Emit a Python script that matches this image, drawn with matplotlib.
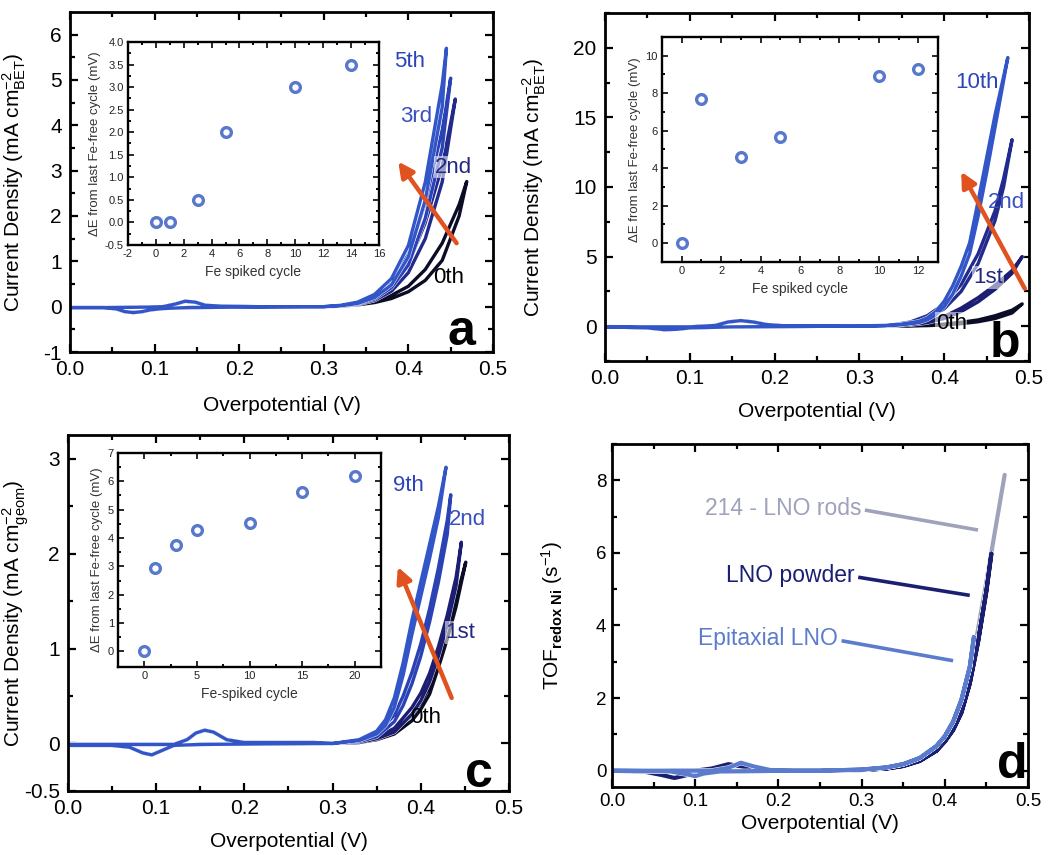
import numpy as np
import matplotlib
matplotlib.use('Agg')
import matplotlib.pyplot as plt
import matplotlib.patheffects as pe

plt.rcParams['font.family'] = ['Liberation Sans', 'DejaVu Sans']
plt.rcParams['mathtext.fontset'] = 'custom'
plt.rcParams['mathtext.rm'] = 'Liberation Sans'
plt.rcParams['mathtext.it'] = 'Liberation Sans:italic'
plt.rcParams['mathtext.bf'] = 'Liberation Sans:bold'
plt.rcParams['axes.unicode_minus'] = False

# ---------------- panel a (BET normalised, Fe spiking) ----------------
a_lo_v_fwd = [0.0, 0.05, 0.09, 0.11, 0.125, 0.136, 0.148, 0.16, 0.18, 0.22, 0.28]
a_lo_j_fwd = [-0.02, -0.02, -0.01, 0.0, 0.06, 0.12, 0.10, 0.03, 0.01, 0.0, 0.0]
a_lo_v_rev = [0.28, 0.20, 0.14, 0.11, 0.095, 0.085, 0.075, 0.065, 0.055, 0.04, 0.0]
a_lo_j_rev = [0.0, -0.01, -0.02, -0.04, -0.07, -0.11, -0.13, -0.11, -0.05, -0.02, -0.02]

a_v_0th = [0.30, 0.32, 0.34, 0.36, 0.38, 0.40, 0.42, 0.44, 0.46, 0.469]
a_fwd_0th = [0.0, 0.02, 0.06, 0.13, 0.25, 0.45, 0.82, 1.40, 2.25, 2.76]
a_rev_0th = [0.0, 0.01, 0.04, 0.09, 0.18, 0.33, 0.58, 1.02, 2.00, 2.76]
a_v_2nd = [0.30, 0.32, 0.34, 0.36, 0.38, 0.40, 0.42, 0.44, 0.4555]
a_fwd_2nd = [0.0, 0.02, 0.08, 0.20, 0.45, 0.95, 1.85, 3.10, 4.58]
a_rev_2nd = [0.0, 0.01, 0.05, 0.14, 0.34, 0.75, 1.50, 2.75, 4.58]
a_v_3rd = [0.30, 0.32, 0.34, 0.36, 0.38, 0.40, 0.42, 0.44, 0.45]
a_fwd_3rd = [0.0, 0.02, 0.09, 0.24, 0.55, 1.15, 2.30, 3.90, 5.04]
a_rev_3rd = [0.0, 0.01, 0.06, 0.17, 0.42, 0.92, 1.95, 3.50, 5.04]
a_v_5th = [0.30, 0.32, 0.34, 0.36, 0.38, 0.40, 0.42, 0.44, 0.445]
a_fwd_5th = [0.0, 0.03, 0.10, 0.27, 0.62, 1.35, 2.75, 4.90, 5.70]
a_rev_5th = [0.0, 0.02, 0.07, 0.20, 0.48, 1.10, 2.35, 4.40, 5.70]

a_inset_cycle = [0, 1, 3, 5, 10, 14]
a_inset_dE = [0.0, 0.0, 0.5, 2.0, 3.0, 3.5]

# ---------------- panel b ----------------
b_lo_v_fwd = [0.0, 0.10, 0.13, 0.145, 0.16, 0.175, 0.19, 0.21, 0.28]
b_lo_j_fwd = [-0.05, -0.05, 0.05, 0.30, 0.40, 0.30, 0.12, 0.03, 0.0]
b_lo_v_rev = [0.28, 0.15, 0.10, 0.085, 0.07, 0.05, 0.0]
b_lo_j_rev = [0.0, -0.05, -0.12, -0.22, -0.25, -0.12, -0.05]

b_v_0th = [0.30, 0.34, 0.38, 0.40, 0.42, 0.44, 0.46, 0.48, 0.492]
b_fwd_0th = [0.0, 0.02, 0.07, 0.15, 0.28, 0.45, 0.75, 1.15, 1.60]
b_rev_0th = [0.0, 0.01, 0.04, 0.09, 0.18, 0.32, 0.55, 0.95, 1.60]
b_v_1st = [0.30, 0.34, 0.36, 0.38, 0.40, 0.42, 0.44, 0.46, 0.48, 0.492]
b_fwd_1st = [0.0, 0.05, 0.14, 0.33, 0.70, 1.30, 2.05, 2.95, 4.00, 5.00]
b_rev_1st = [0.0, 0.03, 0.10, 0.25, 0.55, 1.05, 1.75, 2.65, 3.80, 5.00]
b_v_2nd = [0.30, 0.34, 0.36, 0.38, 0.40, 0.42, 0.44, 0.46, 0.47, 0.48]
b_fwd_2nd = [0.0, 0.10, 0.30, 0.75, 1.60, 3.00, 5.20, 8.30, 10.6, 13.4]
b_rev_2nd = [0.0, 0.06, 0.20, 0.55, 1.25, 2.50, 4.50, 7.60, 10.0, 13.4]
b_v_10th = [0.30, 0.33, 0.35, 0.37, 0.38, 0.39, 0.40, 0.41, 0.42, 0.43, 0.44, 0.45, 0.46, 0.475]
b_fwd_10th = [0.0, 0.05, 0.15, 0.35, 0.60, 1.05, 1.80, 2.90, 4.30, 6.00, 9.00, 12.1, 15.2, 19.3]
b_rev_10th = [0.0, 0.03, 0.10, 0.25, 0.45, 0.80, 1.40, 2.30, 3.60, 5.20, 7.90, 11.0, 14.3, 19.3]

b_inset_cycle = [0, 1, 3, 5, 10, 12]
b_inset_dE = [0.0, 7.7, 4.6, 5.65, 8.9, 9.3]

# ---------------- panel c (geometric area) ----------------
c_lo_v_fwd = [0.0, 0.12, 0.135, 0.145, 0.155, 0.165, 0.18, 0.20, 0.28]
c_lo_j_fwd = [-0.01, -0.01, 0.04, 0.11, 0.14, 0.12, 0.04, 0.01, 0.01]
c_lo_v_rev = [0.28, 0.15, 0.12, 0.105, 0.095, 0.085, 0.07, 0.05, 0.0]
c_lo_j_rev = [0.0, -0.01, -0.02, -0.08, -0.12, -0.10, -0.04, -0.02, -0.02]

c_v_0th = [0.30, 0.33, 0.35, 0.37, 0.39, 0.40, 0.41, 0.42, 0.43, 0.44, 0.451]
c_fwd_0th = [0.0, 0.02, 0.06, 0.13, 0.30, 0.43, 0.60, 0.90, 1.20, 1.52, 1.91]
c_rev_0th = [0.0, 0.01, 0.04, 0.10, 0.24, 0.36, 0.52, 0.80, 1.10, 1.44, 1.91]
c_v_1st = [0.30, 0.33, 0.35, 0.37, 0.39, 0.40, 0.41, 0.42, 0.43, 0.44, 0.446]
c_fwd_1st = [0.0, 0.02, 0.07, 0.16, 0.38, 0.53, 0.74, 1.02, 1.35, 1.75, 2.12]
c_rev_1st = [0.0, 0.01, 0.05, 0.12, 0.31, 0.45, 0.65, 0.92, 1.25, 1.66, 2.12]
c_v_2nd = [0.30, 0.33, 0.35, 0.37, 0.38, 0.39, 0.40, 0.41, 0.42, 0.43, 0.434]
c_fwd_2nd = [0.0, 0.03, 0.10, 0.30, 0.50, 0.75, 1.05, 1.42, 1.85, 2.35, 2.62]
c_rev_2nd = [0.0, 0.02, 0.07, 0.23, 0.40, 0.63, 0.92, 1.28, 1.70, 2.20, 2.62]
c_v_9th = [0.30, 0.33, 0.35, 0.36, 0.37, 0.38, 0.39, 0.40, 0.41, 0.42, 0.4286]
c_fwd_9th = [0.0, 0.04, 0.13, 0.25, 0.48, 0.85, 1.30, 1.70, 2.10, 2.50, 2.91]
c_rev_9th = [0.0, 0.03, 0.10, 0.19, 0.38, 0.72, 1.15, 1.55, 1.95, 2.38, 2.91]

c_inset_cycle = [0, 1, 3, 5, 10, 15, 20]
c_inset_dE = [0.0, 2.93, 3.77, 4.27, 4.52, 5.63, 6.18]

# ---------------- panel d (TOF per redox Ni) ----------------
d_v_rods = [0.0, 0.10, 0.20, 0.25, 0.30, 0.33, 0.35, 0.37, 0.39, 0.40, 0.41, 0.42, 0.43, 0.44, 0.45, 0.46, 0.472]
d_j_rods = [0.0, 0.0, 0.0, 0.0, 0.03, 0.08, 0.16, 0.32, 0.62, 0.88, 1.25, 1.75, 2.70, 3.90, 5.20, 6.55, 8.15]

d_lo_v_powder_fwd = [0.0, 0.10, 0.12, 0.14, 0.16, 0.18, 0.22]
d_lo_j_powder_fwd = [0.0, 0.0, 0.06, 0.18, 0.10, 0.02, 0.0]
d_lo_v_powder_rev = [0.22, 0.12, 0.10, 0.085, 0.075, 0.06, 0.04, 0.0]
d_lo_j_powder_rev = [0.0, -0.02, -0.06, -0.15, -0.20, -0.12, -0.03, 0.0]
d_v_powder = [0.25, 0.30, 0.33, 0.35, 0.37, 0.39, 0.40, 0.41, 0.42, 0.43, 0.44, 0.45, 0.456]
d_j_powder = [0.0, 0.02, 0.06, 0.13, 0.27, 0.55, 0.80, 1.12, 1.60, 2.40, 3.55, 4.95, 5.98]

d_lo_v_epi_fwd = [0.0, 0.12, 0.14, 0.155, 0.17, 0.19, 0.22]
d_lo_j_epi_fwd = [0.0, 0.0, 0.08, 0.22, 0.12, 0.02, 0.0]
d_lo_v_epi_rev = [0.22, 0.13, 0.11, 0.10, 0.09, 0.07, 0.0]
d_lo_j_epi_rev = [0.0, -0.02, -0.08, -0.15, -0.10, -0.02, 0.0]
d_v_epi = [0.25, 0.30, 0.33, 0.35, 0.37, 0.39, 0.40, 0.41, 0.42, 0.43, 0.435]
d_j_epi = [0.0, 0.03, 0.09, 0.18, 0.35, 0.68, 0.95, 1.35, 1.95, 2.85, 3.68]

# colours
c_black = '#0b0d26'
c_navy = '#1b1e72'
c_navy2 = '#222a8e'
c_blue = '#2b42b4'
c_bright = '#3255c8'
c_marker = '#5878cc'
c_arrow = '#e0521f'

xt = [0.0, 0.1, 0.2, 0.3, 0.4, 0.5]
xt_lab = ['0.0', '0.1', '0.2', '0.3', '0.4', '0.5']


def cv(lo_vf, lo_jf, hv, hf, hr, lo_vr, lo_jr):
    v = lo_vf + hv + hv[::-1] + lo_vr
    j = lo_jf + hf + hr[::-1] + lo_jr
    return v, j


def style(ax, lw=2.0, tick=11, ln=6, pad=6):
    for sp in ax.spines.values():
        sp.set_linewidth(lw)
    ax.tick_params(which='both', direction='in', top=True, right=True,
                   width=lw * 0.8, labelsize=tick, pad=pad)
    ax.tick_params(which='major', length=ln)
    ax.tick_params(which='minor', length=ln * 0.55)


def main_x(ax):
    ax.set_xlim(0, 0.5)
    ax.set_xticks(xt)
    ax.set_xticklabels(xt_lab)
    ax.set_xticks([0.05, 0.15, 0.25, 0.35, 0.45], minor=True)


def draw(ax, v, j, color, lw=2.4, z=2):
    ax.plot(v, j, color=color, lw=lw, zorder=z, solid_joinstyle='round',
            solid_capstyle='round',
            path_effects=[pe.Stroke(linewidth=lw + 0.6, foreground='white'), pe.Normal()])


def inset(ax, x, y, xlabel):
    ax.plot(x, y, 'o', ms=7, mfc='white', mec=c_marker, mew=2.4, zorder=3)
    style(ax, lw=1.7, tick=8, ln=4)
    ax.tick_params(pad=3, colors='#222222')
    ax.set_xlabel(xlabel, fontsize=10, color='#333333', labelpad=4)
    ax.set_ylabel('ΔE from last Fe-free cycle (mV)', fontsize=9.5, color='#333333', labelpad=3)


fig = plt.figure(figsize=(10.54, 8.55), dpi=100)

# ===== panel a =====
ax = fig.add_axes([0.0664, 0.5883, 0.4013, 0.3977])
for hv, hf, hr, col in [(a_v_0th, a_fwd_0th, a_rev_0th, c_black),
                        (a_v_2nd, a_fwd_2nd, a_rev_2nd, c_navy2),
                        (a_v_3rd, a_fwd_3rd, a_rev_3rd, c_blue),
                        (a_v_5th, a_fwd_5th, a_rev_5th, c_bright)]:
    v, j = cv(a_lo_v_fwd, a_lo_j_fwd, hv, hf, hr, a_lo_v_rev, a_lo_j_rev)
    draw(ax, v, j, col)
style(ax, tick=15)
main_x(ax)
ax.set_ylim(-1, 6.5)
ax.set_yticks([-1, 0, 1, 2, 3, 4, 5, 6])
ax.set_yticklabels(['-1', '0', '1', '2', '3', '4', '5', '6'])
ax.set_yticks(np.arange(-0.5, 6.5, 1.0), minor=True)
ax.set_xlabel('Overpotential (V)', fontsize=15, labelpad=12)
ax.set_ylabel(r'Current Density (mA cm$^{-2}_{\mathrm{BET}}$)', fontsize=15)
ax.yaxis.set_label_coords(-0.10, 0.5)
ax.annotate('', xy=(0.388, 3.2), xytext=(0.457, 1.4),
            arrowprops=dict(arrowstyle='-|>,head_length=0.9,head_width=0.45',
                            lw=3.2, color=c_arrow, shrinkA=0, shrinkB=0), zorder=5)
ax.text(0.383, 5.4, '5th', color='#2c44bb', fontsize=16, va='center', zorder=6)
ax.text(0.39, 4.19, '3rd', color='#3b50c0', fontsize=16, va='center', zorder=6,
        bbox=dict(facecolor='white', alpha=0.55, edgecolor='none', pad=0.5))
ax.text(0.431, 3.08, '2nd', color='#22287e', fontsize=16, va='center', zorder=6,
        bbox=dict(facecolor='white', alpha=0.55, edgecolor='none', pad=0.5))
ax.text(0.429, 0.65, '0th', color='black', fontsize=16, va='center', zorder=6)
ax.text(0.958, 0.02, 'a', transform=ax.transAxes, fontsize=36, fontweight='bold',
        ha='right', va='baseline', zorder=6)

ins = fig.add_axes([0.1214, 0.7135, 0.2381, 0.2374])
ins.set_xlim(-2, 16)
ins.set_ylim(-0.5, 4.0)
ins.set_xticks(range(-2, 17, 2))
ins.set_xticklabels([str(t) for t in range(-2, 17, 2)])
ins.set_xticks(range(-1, 16, 2), minor=True)
ins.set_yticks(np.arange(-0.5, 4.01, 0.5))
ins.set_yticklabels(['%.1f' % t for t in np.arange(-0.5, 4.01, 0.5)])
ins.set_yticks(np.arange(-0.25, 4.0, 0.5), minor=True)
inset(ins, a_inset_cycle, a_inset_dE, 'Fe spiked cycle')

# ===== panel b =====
ax = fig.add_axes([0.5740, 0.5778, 0.4023, 0.4070])
for hv, hf, hr, col in [(b_v_0th, b_fwd_0th, b_rev_0th, c_black),
                        (b_v_1st, b_fwd_1st, b_rev_1st, c_navy),
                        (b_v_2nd, b_fwd_2nd, b_rev_2nd, c_navy2),
                        (b_v_10th, b_fwd_10th, b_rev_10th, c_bright)]:
    v, j = cv(b_lo_v_fwd, b_lo_j_fwd, hv, hf, hr, b_lo_v_rev, b_lo_j_rev)
    draw(ax, v, j, col)
style(ax, tick=15)
main_x(ax)
ax.set_ylim(-2.5, 22.5)
ax.set_yticks([0, 5, 10, 15, 20])
ax.set_yticks([-2.5, 2.5, 7.5, 12.5, 17.5, 22.5], minor=True)
ax.set_xlabel('Overpotential (V)', fontsize=15, labelpad=10)
ax.set_ylabel(r'Current Density (mA cm$^{-2}_{\mathrm{BET}}$)', fontsize=15)
ax.yaxis.set_label_coords(-0.135, 0.5)
ax.annotate('', xy=(0.42, 11.1), xytext=(0.495, 2.7),
            arrowprops=dict(arrowstyle='-|>,head_length=0.9,head_width=0.45',
                            lw=3.2, color=c_arrow, shrinkA=0, shrinkB=0), zorder=5)
ax.text(0.413, 17.5, '10th', color='#2c44bb', fontsize=16, va='center', zorder=6)
ax.text(0.452, 8.9, '2nd', color='#3b50c0', fontsize=16, va='center', zorder=6)
ax.text(0.434, 3.5, '1st', color='#22287e', fontsize=16, va='center', zorder=6,
        bbox=dict(facecolor='white', alpha=0.55, edgecolor='none', pad=0.5))
ax.text(0.39, 0.2, '0th', color='black', fontsize=16, va='center', zorder=6,
        bbox=dict(facecolor='white', alpha=0.55, edgecolor='none', pad=0.5))
ax.text(0.98, 0.012, 'b', transform=ax.transAxes, fontsize=36, fontweight='bold',
        ha='right', va='baseline', zorder=6)

ins = fig.add_axes([0.6281, 0.6936, 0.2619, 0.2632])
ins.set_xlim(-1, 13)
ins.set_ylim(-1, 11)
ins.set_xticks(range(0, 13, 2))
ins.set_xticks(range(1, 13, 2), minor=True)
ins.set_yticks(range(0, 11, 2))
ins.set_yticks(range(1, 11, 2), minor=True)
inset(ins, b_inset_cycle, b_inset_dE, 'Fe spiked cycle')

# ===== panel c =====
ax = fig.add_axes([0.0645, 0.0749, 0.4184, 0.4164])
for hv, hf, hr, col in [(c_v_0th, c_fwd_0th, c_rev_0th, c_black),
                        (c_v_1st, c_fwd_1st, c_rev_1st, c_navy),
                        (c_v_2nd, c_fwd_2nd, c_rev_2nd, c_blue),
                        (c_v_9th, c_fwd_9th, c_rev_9th, c_bright)]:
    v, j = cv(c_lo_v_fwd, c_lo_j_fwd, hv, hf, hr, c_lo_v_rev, c_lo_j_rev)
    draw(ax, v, j, col)
style(ax, tick=15)
main_x(ax)
ax.set_ylim(-0.5, 3.25)
ax.set_yticks([-0.5, 0, 1, 2, 3])
ax.set_yticklabels(['-0.5', '0', '1', '2', '3'])
ax.set_yticks([0.5, 1.5, 2.5], minor=True)
ax.set_xlabel('Overpotential (V)', fontsize=15, labelpad=10)
ax.set_ylabel(r'Current Density (mA cm$^{-2}_{\mathrm{geom}}$)', fontsize=15)
ax.yaxis.set_label_coords(-0.083, 0.5)
ax.annotate('', xy=(0.374, 1.86), xytext=(0.435, 0.48),
            arrowprops=dict(arrowstyle='-|>,head_length=0.9,head_width=0.45',
                            lw=3.2, color=c_arrow, shrinkA=0, shrinkB=0), zorder=5)
ax.text(0.368, 2.72, '9th', color='#2c44bb', fontsize=16, va='center', ha='left', zorder=6)
ax.text(0.432, 2.36, '2nd', color='#3b50c0', fontsize=16, va='center', zorder=6)
ax.text(0.428, 1.17, '1st', color='#22287e', fontsize=16, va='center', zorder=6,
        bbox=dict(facecolor='white', alpha=0.55, edgecolor='none', pad=0.5))
ax.text(0.388, 0.27, '0th', color='black', fontsize=16, va='center', zorder=6)
ax.text(0.964, 0.012, 'c', transform=ax.transAxes, fontsize=36, fontweight='bold',
        ha='right', va='baseline', zorder=6)

ins = fig.add_axes([0.1120, 0.2199, 0.2495, 0.2503])
ins.set_xlim(-2.5, 22.5)
ins.set_ylim(-0.55, 7.0)
ins.set_xticks([0, 5, 10, 15, 20])
ins.set_xticks([2.5, 7.5, 12.5, 17.5], minor=True)
ins.set_yticks(range(0, 8))
ins.set_yticks(np.arange(0.5, 7, 1.0), minor=True)
inset(ins, c_inset_cycle, c_inset_dE, 'Fe-spiked cycle')

# ===== panel d =====
ax = fig.add_axes([0.5806, 0.0795, 0.3947, 0.4012])
draw(ax, d_v_rods, d_j_rods, '#9ea2ba', lw=3.0)
v = d_lo_v_powder_fwd + d_v_powder + d_v_powder[::-1] + d_lo_v_powder_rev
j = d_lo_j_powder_fwd + d_j_powder + d_j_powder[::-1] + d_lo_j_powder_rev
draw(ax, v, j, '#1b1f72', lw=3.0)
v = d_lo_v_epi_fwd + d_v_epi + d_v_epi[::-1] + d_lo_v_epi_rev
j = d_lo_j_epi_fwd + d_j_epi + d_j_epi[::-1] + d_lo_j_epi_rev
draw(ax, v, j, '#5b7ccc', lw=3.0)
style(ax, tick=13.5, pad=4)
main_x(ax)
ax.set_ylim(-0.45, 9.0)
ax.set_yticks([0, 2, 4, 6, 8])
ax.set_yticks([1, 3, 5, 7, 9], minor=True)
ax.set_xlabel('Overpotential (V)', fontsize=15, labelpad=3)
ax.set_ylabel(r'TOF$_{\mathbf{redox\ Ni}}$ (s$^{-1}$)', fontsize=15)
ax.yaxis.set_label_coords(-0.113, 0.5)

for lab, col, tx, ty, x2, y2 in [('214 - LNO rods', '#9ea2ba', 0.30, 7.23, 0.44, 6.63),
                                  ('LNO powder', '#1b1f72', 0.292, 5.38, 0.43, 4.83),
                                  ('Epitaxial LNO', '#5b7ccc', 0.272, 3.63, 0.41, 3.03)]:
    ax.text(tx, ty, lab, color=col, fontsize=16.5, ha='right', va='center')
    ax.plot([tx + 0.004, x2], [ty - 0.05, y2], color=col, lw=2.6, solid_capstyle='butt')
ax.text(1.0, 0.026, 'd', transform=ax.transAxes, fontsize=36, fontweight='bold',
        ha='right', va='baseline', zorder=6)

fig.savefig('out.png', dpi=100, facecolor='white')
